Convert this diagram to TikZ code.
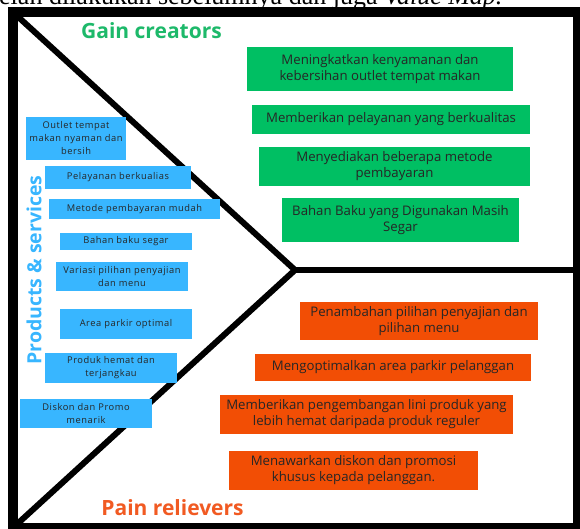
\documentclass[tikz,border=0pt]{standalone}
\usepackage{fontspec}
\setmainfont{Liberation Serif}
\newfontfamily\boxfont{Open Sans}
\newfontfamily\smallboxfont[LetterSpace=6]{Open Sans}
\definecolor{gainfill}{HTML}{00BF63}
\definecolor{gaintitle}{HTML}{1DB96A}
\definecolor{painfill}{HTML}{F24E05}
\definecolor{paintitle}{HTML}{F15A22}
\definecolor{prodfill}{HTML}{38B6FF}
\definecolor{boxtext}{HTML}{262626}
\tikzset{
  canvas/.style={x=1pt,y=-1pt},
  tile/.style={inner sep=0pt, align=center, text=boxtext, font=\boxfont\fontsize{13.2}{16}\selectfont},
  gainbox/.style={tile, fill=gainfill},
  painbox/.style={tile, fill=painfill},
  prodbox/.style={tile, fill=prodfill, font=\smallboxfont\fontsize{9.3}{13}\selectfont},
  heading/.style={font=\boxfont\bfseries\fontsize{21}{25}\selectfont},
  divider/.style={line width=6pt},
  frameline/.style={line width=10pt}
}
\begin{document}
\begin{tikzpicture}[canvas]
\useasboundingbox (0,0) rectangle (580,528);
\clip (0,0) rectangle (580,528);
\fill[white] (0,0) rectangle (580,528);

% caption line running above the canvas
\node[anchor=base west, inner sep=0pt, font=\fontsize{26}{30}\selectfont] (caption) at (-1,4)
  {elah dilakukan sebelumnya dan juga \textit{Value Map.}};

% outer frame
\draw[frameline] (13,12) rectangle (578,528);

% split lines
\coordinate (tl) at (15,14);
\coordinate (apex) at (295,270);
\coordinate (bl) at (15,526);
\coordinate (rm) at (575,270);
\draw[divider, line join=miter] (tl) -- (apex) -- (bl);
\draw[divider] (apex) -- (rm);

% section titles
\node[heading, text=gaintitle] (gaint) at (151.5,31) {Gain creators};
\node[heading, text=paintitle] (paint) at (172.5,508) {Pain relievers};
\node[heading, text=prodfill, rotate=90, font=\boxfont\bfseries\fontsize{19.5}{24}\selectfont] (prodt) at (34,270) {Products \& services};

% gain creators
\node[gainbox, minimum width=266pt, minimum height=44pt] (g1) at (380,69)
  {Meningkatkan kenyamanan dan\\kebersihan outlet tempat makan};
\node[gainbox, minimum width=278pt, minimum height=29pt] (g2) at (391,119.5)
  {Memberikan pelayanan yang berkualitas};
\node[gainbox, minimum width=271pt, minimum height=39pt] (g3) at (394.5,166.5)
  {Menyediakan beberapa metode\\pembayaran};
\node[gainbox, minimum width=237pt, minimum height=44pt] (g4) at (400.5,220)
  {Bahan Baku yang Digunakan Masih\\Segar};

% pain relievers
\node[painbox, minimum width=238pt, minimum height=38pt] (p1) at (419,321)
  {Penambahan pilihan penyajian dan\\pilihan menu};
\node[painbox, minimum width=276pt, minimum height=27pt] (p2) at (393,367.5)
  {Mengoptimalkan area parkir pelanggan};
\node[painbox, minimum width=293pt, minimum height=39pt] (p3) at (366.5,414.5)
  {Memberikan pengembangan lini produk yang\\lebih hemat daripada produk reguler};
\node[painbox, minimum width=249pt, minimum height=39pt] (p4) at (353.5,470.5)
  {Menawarkan diskon dan promosi\\khusus kepada pelanggan.};

% products & services
\node[prodbox, minimum width=100pt, minimum height=43pt] (s1) at (76,138.5)
  {Outlet tempat\\makan nyaman dan\\bersih};
\node[prodbox, minimum width=146pt, minimum height=23pt] (s2) at (118,177.5)
  {Pelayanan berkualias};
\node[prodbox, minimum width=171pt, minimum height=20pt] (s3) at (134.5,209)
  {Metode pembayaran mudah};
\node[prodbox, minimum width=132pt, minimum height=17pt] (s4) at (126,241.5)
  {Bahan baku segar};
\node[prodbox, minimum width=132pt, minimum height=29pt] (s5) at (122,276.5)
  {Variasi pilihan penyajian\\dan menu};
\node[prodbox, minimum width=132pt, minimum height=30pt] (s6) at (126,324)
  {Area parkir optimal};
\node[prodbox, minimum width=132pt, minimum height=30pt] (s7) at (111,368)
  {Produk hemat dan\\terjangkau};
\node[prodbox, minimum width=132pt, minimum height=29pt] (s8) at (86,413.5)
  {Diskon dan Promo\\menarik};
\end{tikzpicture}
\end{document}
